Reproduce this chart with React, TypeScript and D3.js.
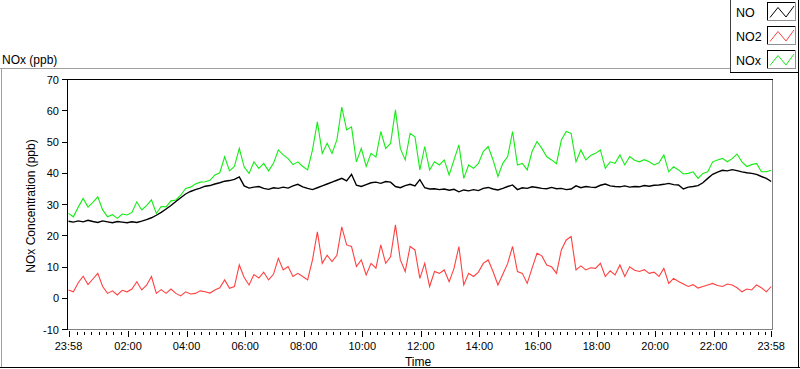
import * as d3 from "d3";

// NOx monitor, one day, 10-minute readings taken off the chart
const seriesNames = ["NO", "NO2", "NOx"];
const seriesColors = ["#000000", "#ff4040", "#14ec14"];
const startTime = new Date(2000, 0, 1, 23, 58);
const endTime = new Date(2000, 0, 2, 23, 58);
const stepMinutes = 10;
const yTicks = [-10, 0, 10, 20, 30, 40, 50, 60, 70];

const noValues = [
  24.5, 24.2, 24.6, 24.3, 24.8, 24.4, 24.1, 24.6, 24.3, 24.0, 24.4, 24.2, 24.0, 24.3, 24.1, 24.5,
  25.0, 25.6, 26.4, 27.3, 28.4, 29.5, 30.8, 32.0, 33.2, 34.0, 34.6, 35.1, 35.7, 35.9, 36.4, 36.8,
  37.3, 37.5, 37.9, 38.7, 35.8, 35.1, 35.4, 35.6, 35.0, 34.7, 35.2, 35.0, 35.4, 35.1, 35.8, 36.3,
  35.5, 35.0, 34.6, 35.2, 35.8, 36.4, 37.0, 37.6, 38.2, 37.4, 39.5, 36.0, 35.6, 36.2, 36.8, 37.0,
  36.6, 37.2, 37.0, 35.6, 35.2, 35.9, 36.3, 35.8, 37.8, 35.2, 34.8, 34.9, 34.6, 34.8, 34.4, 34.7,
  33.9, 34.5, 34.2, 34.6, 34.3, 35.0, 35.3, 34.8, 34.5, 35.0, 35.6, 36.1, 34.6, 35.2, 35.0, 35.5,
  35.3, 35.0, 34.9, 35.3, 34.9, 35.0, 34.6, 34.8, 35.8, 35.2, 35.6, 35.4, 35.3, 36.0, 36.4, 35.8,
  35.6, 35.5, 35.8, 35.4, 35.6, 35.5, 35.9, 35.7, 36.0, 36.1, 36.3, 36.6, 36.2, 36.1, 34.8, 35.4,
  35.6, 35.9, 36.8, 38.2, 39.5, 40.2, 40.8, 40.6, 41.0, 40.7, 40.3, 40.0, 39.8, 39.5, 38.8, 38.2,
  37.2,
];

const no2Values = [
  2.5, 1.9, 4.8, 6.9, 4.2, 6.0, 7.8, 3.6, 1.4, 2.2, 0.9, 2.4, 1.9, 2.8, 5.1, 2.5,
  4.0, 6.8, 1.4, 2.6, 1.4, 2.8, 1.4, 0.6, 1.9, 1.2, 1.4, 2.2, 1.9, 1.5, 2.5, 3.2,
  5.7, 3.0, 3.6, 10.5, 6.5, 4.1, 7.4, 6.3, 8.2, 5.7, 7.5, 12.6, 8.9, 10.0, 6.8, 7.8,
  6.8, 5.7, 12.1, 21.1, 11.0, 13.6, 11.6, 13.6, 22.7, 16.9, 16.4, 10.0, 12.1, 7.3, 11.0, 9.5,
  16.9, 11.0, 13.1, 23.3, 12.1, 8.4, 16.4, 15.3, 6.2, 11.0, 3.6, 8.4, 7.8, 8.9, 5.1, 9.4,
  16.4, 4.1, 7.8, 6.8, 8.2, 11.0, 12.1, 8.4, 4.1, 7.5, 11.0, 16.4, 8.4, 7.8, 4.6, 9.5,
  14.2, 13.4, 10.5, 9.9, 7.8, 15.3, 18.5, 19.6, 8.9, 10.2, 8.9, 9.6, 9.4, 11.0, 6.8, 8.6,
  7.3, 10.5, 6.8, 9.9, 8.8, 8.4, 9.0, 7.8, 8.2, 6.8, 9.4, 4.6, 6.2, 5.2, 4.4, 3.6,
  4.2, 3.1, 3.6, 4.1, 4.6, 3.9, 3.6, 4.4, 4.1, 3.2, 1.9, 2.8, 2.5, 4.1, 3.2, 1.9,
  3.6,
];

const noxValues = [
  27.0, 25.9, 29.0, 31.8, 29.0, 30.5, 32.3, 28.1, 25.9, 26.6, 25.4, 26.8, 26.5, 27.3, 30.7, 28.1,
  29.5, 31.3, 27.0, 29.2, 29.1, 31.0, 31.3, 32.8, 35.0, 35.4, 36.4, 37.0, 37.1, 37.6, 39.3, 40.0,
  45.1, 40.6, 42.0, 47.8, 41.8, 39.8, 43.5, 41.4, 43.0, 40.6, 43.0, 47.3, 45.7, 44.5, 42.6, 43.5,
  42.0, 40.9, 47.3, 56.3, 46.2, 49.4, 46.2, 50.5, 61.0, 53.7, 54.7, 43.5, 47.8, 42.0, 46.2, 45.0,
  53.2, 47.8, 49.4, 60.1, 47.8, 44.1, 52.6, 51.5, 40.9, 48.4, 40.9, 43.5, 42.5, 44.1, 39.3, 44.1,
  48.9, 38.2, 42.5, 41.4, 43.0, 46.8, 48.4, 44.1, 38.8, 43.0, 45.2, 53.2, 42.5, 43.0, 40.9, 46.8,
  50.0, 47.8, 45.1, 44.1, 42.9, 50.5, 53.2, 52.6, 43.5, 47.3, 44.1, 45.5, 46.2, 47.3, 41.4, 43.5,
  43.0, 45.7, 42.5, 45.2, 44.0, 43.5, 44.2, 43.5, 42.5, 43.2, 45.7, 40.3, 41.9, 40.9, 39.6, 39.8,
  40.3, 38.2, 39.8, 40.3, 43.5, 44.1, 44.6, 43.5, 44.5, 46.0, 43.5, 42.0, 42.6, 43.0, 40.3, 40.3,
  40.8,
];

const W = 800;
const H = 369;
const plot = { left: 67, top: 79, right: 772, bottom: 329 };
const font = "'Liberation Sans', Arial, sans-serif";

export default function App() {
  const x = d3.scaleTime().domain([startTime, endTime]).range([68.5, 771.2]);
  const y = d3.scaleLinear().domain([-10, 70]).range([plot.bottom, plot.top]);

  const times = noValues.map((_, i) => d3.timeMinute.offset(startTime, i * stepMinutes));
  const line = d3
    .line<number>()
    .x((_, i) => x(times[i]))
    .y((d) => y(d));

  const series = [noValues, no2Values, noxValues];
  const widths = [1.4, 1.1, 1.1];
  // green underneath, black on top
  const drawOrder = [2, 1, 0];

  const majorTicks = [
    startTime,
    ...d3.timeHour.every(2)!.range(new Date(2000, 0, 2, 1), new Date(2000, 0, 2, 23)),
    endTime,
  ];
  const majorSet = new Set(majorTicks.map((t) => +t));
  const minorTicks = d3.timeMinute
    .every(15)!
    .range(startTime, endTime)
    .filter((t) => !majorSet.has(+t));
  const fmt = d3.timeFormat("%H:%M");

  const legendRows = [0, 1, 2].map((i) => ({ top: 2 + i * 24, name: seriesNames[i], color: seriesColors[i] }));

  return (
    <svg
      width={W}
      height={H}
      style={{ position: "absolute", left: 0, top: 0, background: "#fff" }}
      fontFamily={font}
      fontSize={11}
    >
      <rect x={0} y={0} width={W} height={H} fill="#fff" />

      {/* outer panel */}
      <g shapeRendering="crispEdges">
        <line x1={0} x2={730} y1={68.5} y2={68.5} stroke="#a0a0a0" />
        <line x1={1.5} x2={1.5} y1={68} y2={368} stroke="#a0a0a0" />
        <line x1={0} x2={800} y1={367.5} y2={367.5} stroke="#000" />
        <line x1={798.5} x2={798.5} y1={72} y2={368} stroke="#000" />
      </g>

      <text x={2} y={63.5} fill="#000" fontSize={12}>NOx (ppb)</text>

      {/* legend */}
      <g shapeRendering="crispEdges">
        <line x1={730.5} x2={730.5} y1={0} y2={72.5} stroke="#404040" />
        <line x1={730} x2={799} y1={72.5} y2={72.5} stroke="#000" />
        <line x1={798.5} x2={798.5} y1={0} y2={72.5} stroke="#000" />
      </g>
      {legendRows.map((r) => (
        <g key={r.name}>
          <text x={736} y={r.top + 15} fill="#000" fontSize={12.5}>
            {r.name}
          </text>
          <g shapeRendering="crispEdges">
            <line x1={767.5} x2={795} y1={r.top + 0.5} y2={r.top + 0.5} stroke="#000" />
            <line x1={767.5} x2={767.5} y1={r.top} y2={r.top + 18} stroke="#000" />
            <line x1={795.5} x2={795.5} y1={r.top} y2={r.top + 18.5} stroke="#909090" />
            <line x1={767} x2={796} y1={r.top + 18.5} y2={r.top + 18.5} stroke="#909090" />
          </g>
          <polyline
            points={`770,${r.top + 15.5} 778,${r.top + 5.5} 786,${r.top + 15} 794,${r.top + 4}`}
            fill="none"
            stroke={r.color}
            strokeWidth={1}
          />
        </g>
      ))}

      {/* plot frame */}
      <g shapeRendering="crispEdges">
        <line x1={plot.left} x2={plot.right + 1} y1={plot.top + 0.5} y2={plot.top + 0.5} stroke="#000" />
        <line x1={plot.left + 0.5} x2={plot.left + 0.5} y1={plot.top} y2={plot.bottom + 1} stroke="#000" />
        <line x1={plot.right + 0.5} x2={plot.right + 0.5} y1={plot.top + 1} y2={plot.bottom + 1} stroke="#808080" />
        <line x1={plot.left + 1} x2={plot.right + 1} y1={plot.bottom + 0.5} y2={plot.bottom + 0.5} stroke="#808080" />
      </g>

      {/* y axis */}
      {yTicks.map((t) => (
        <g key={t}>
          <line
            x1={62}
            x2={67}
            y1={Math.round(y(t)) + 0.5}
            y2={Math.round(y(t)) + 0.5}
            stroke="#000"
            shapeRendering="crispEdges"
          />
          <text x={59} y={y(t) + 4.5} textAnchor="end" fill="#000">
            {t}
          </text>
        </g>
      ))}
      <text
        transform={`translate(35,${(plot.top + plot.bottom) / 2 + 2}) rotate(-90)`}
        textAnchor="middle"
        fill="#000"
        fontSize={12}
      >
        NOx Concentration (ppb)
      </text>

      {/* x axis */}
      <g shapeRendering="crispEdges" stroke="#000">
        {minorTicks.map((t) => (
          <line key={+t} x1={Math.round(x(t)) + 0.5} x2={Math.round(x(t)) + 0.5} y1={332} y2={335} />
        ))}
        {majorTicks.map((t) => (
          <line key={+t} x1={Math.round(x(t)) + 0.5} x2={Math.round(x(t)) + 0.5} y1={331} y2={337} />
        ))}
      </g>
      {majorTicks.map((t) => (
        <text key={+t} x={x(t)} y={349.5} textAnchor="middle" fill="#000">
          {fmt(t)}
        </text>
      ))}
      <text x={418} y={365.5} textAnchor="middle" fill="#000" fontSize={12}>
        Time
      </text>

      {/* data */}
      <g>
        {drawOrder.map((k) => (
          <path
            key={seriesNames[k]}
            d={line(series[k]) ?? ""}
            fill="none"
            stroke={seriesColors[k]}
            strokeWidth={widths[k]}
            strokeLinejoin="miter"
          />
        ))}
      </g>
    </svg>
  );
}
